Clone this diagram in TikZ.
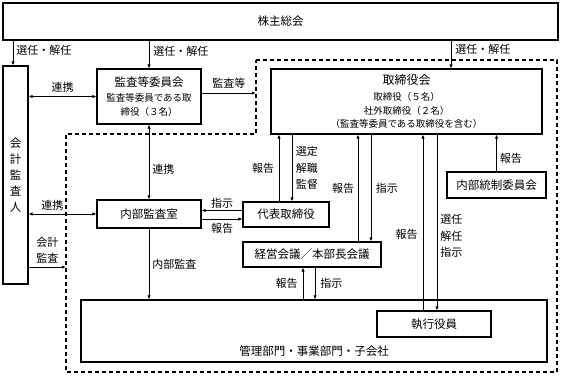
\documentclass[tikz,border=0pt]{standalone}
\usepackage{fontspec}
\setmainfont{Noto Sans CJK JP}
\usetikzlibrary{arrows.meta}

\newcommand*{\boxfont}{\fontsize{11.5}{16}\selectfont}
\newcommand*{\bigfont}{\fontsize{12}{16}\selectfont}
\newcommand*{\smallfont}{\fontsize{9.5}{13.5}\selectfont}
\newcommand*{\lblfont}{\fontsize{11}{16.5}\selectfont}

\begin{document}
\begin{tikzpicture}
[
	x=1pt, y=-1pt,
	>={Latex[length=4pt,width=3.4pt]},
	box/.style={draw,line width=1.1pt,inner sep=0pt,font=\boxfont,align=center},
	arr/.style={->,line width=0.8pt},
	dbl/.style={<->,line width=0.8pt},
	lbl/.style={font=\lblfont,inner sep=0pt,align=center},
	region/.style={draw,line width=1.1pt,dash pattern=on 4pt off 3pt},
]
	\useasboundingbox (0,0) rectangle (561,375);

	% dashed area
	\draw[region] (256,60) -- (557,60) -- (557,372) -- (66,372) -- (66,134) -- (256,134) -- cycle;
	\coordinate (kansaEnd) at (256,93);
	\coordinate (kaikeiEnd) at (66,267);

	% boxes
	\node[box,minimum width=555,minimum height=37] (soukai) at (280.5,21.5) {株主総会};
	\node[box,minimum width=25,minimum height=218] (kaikei) at (15.5,175) {会\\計\\監\\査\\人};
	\node[box,minimum width=104,minimum height=55] (kansa) at (149,96.5)
		{監査等委員会\\[-1pt]{\smallfont 監査等委員である取}\\[-2pt]{\smallfont 締役（３名）}};
	\node[box,minimum width=271,minimum height=65] (torishimari) at (406.5,101.5)
		{{\bigfont 取締役会}\\{\smallfont 取締役（５名）}\\[-2pt]{\smallfont 社外取締役（２名）}\\[-3pt]{\smallfont （監査等委員である取締役を含む）}};
	\node[box,minimum width=104,minimum height=28] (naibu) at (149,214) {内部監査室};
	\node[box,minimum width=86,minimum height=25] (daihyo) at (286,214.5) {代表取締役};
	\node[box,minimum width=99,minimum height=26] (naibutousei) at (496.5,185) {内部統制委員会};
	\node[box,minimum width=138,minimum height=25] (keiei) at (312,254.5) {経営会議／本部長会議};
	\node[box,minimum width=466,minimum height=62,
		label={[lbl,font=\boxfont,anchor=south,yshift=6pt]south:管理部門・事業部門・子会社}] (kanri) at (314,331) {};
	\node[box,minimum width=114,minimum height=26] (shikko) at (434,324) {執行役員};

	% from 株主総会
	\draw[arr] (soukai.south -| 13,0) -- node[lbl,right=3pt,pos=0.4] {選任・解任} (kaikei.north -| 13,0);
	\draw[arr] (soukai.south -| kansa.north) -- node[lbl,right=4pt,pos=0.4] {選任・解任} (kansa.north);
	\draw[arr] (soukai.south -| 451,0) -- node[lbl,right=4pt,pos=0.3] {選任・解任} (torishimari.north -| 451,0);

	% 会計監査人
	\draw[dbl] (kaikei.east |- kansa.west) -- node[lbl,above=4pt] {連携} (kansa.west);
	\draw[dbl] (kaikei.east |- naibu.west) -- node[lbl,above=3pt,pos=0.35] {連携} (naibu.west);
	\draw[arr] (kaikei.east |- kaikeiEnd) -- node[lbl,above=3pt] {会計\\監査} (kaikeiEnd);

	% 監査等委員会
	\draw[arr] (kansa.east |- kansaEnd) -- node[lbl,above=4pt] {監査等} (kansaEnd);
	\draw[dbl] (kansa.south) -- node[lbl,right=3pt,pos=0.6] {連携} (naibu.north);

	% 内部監査室
	\draw[arr] (daihyo.west |- 0,210.5) -- node[lbl,above=2pt] {指示} (naibu.east |- 0,210.5);
	\draw[arr] (naibu.east |- 0,219) -- node[lbl,below=4pt] {報告} (daihyo.west |- 0,219);
	\draw[arr] (naibu.south) -- node[lbl,right=3pt] {内部監査} (kanri.north -| naibu.south);

	% 取締役会
	\draw[arr] (daihyo.north -| 279,0) -- node[lbl,left=4.5pt] {報告} (torishimari.south -| 279,0);
	\draw[arr] (torishimari.south -| 292,0) -- node[lbl,right=3.5pt] {選定\\解職\\監督} (daihyo.north -| 292,0);
	\draw[arr] (keiei.north -| 358,0) -- node[lbl,left=3.5pt] {報告} (torishimari.south -| 358,0);
	\draw[arr] (torishimari.south -| 371,0) -- node[lbl,right=4.5pt] {指示} (keiei.north -| 371,0);
	\draw[arr] (shikko.north -| 423,0) -- node[lbl,left=5pt,pos=0.43] {報告} (torishimari.south -| 423,0);
	\draw[arr] (torishimari.south -| 437,0) -- node[lbl,right=3pt,pos=0.576] {選任\\解任\\指示} (shikko.north -| 437,0);
	\draw[arr] (naibutousei.north) -- node[lbl,right=3pt,pos=0.35] {報告} (torishimari.south -| naibutousei.north);

	% 経営会議
	\draw[arr] (kanri.north -| 303,0) -- node[lbl,left=5pt] {報告} (keiei.south -| 303,0);
	\draw[arr] (keiei.south -| 315,0) -- node[lbl,right=5pt] {指示} (kanri.north -| 315,0);

\end{tikzpicture}
\end{document}
